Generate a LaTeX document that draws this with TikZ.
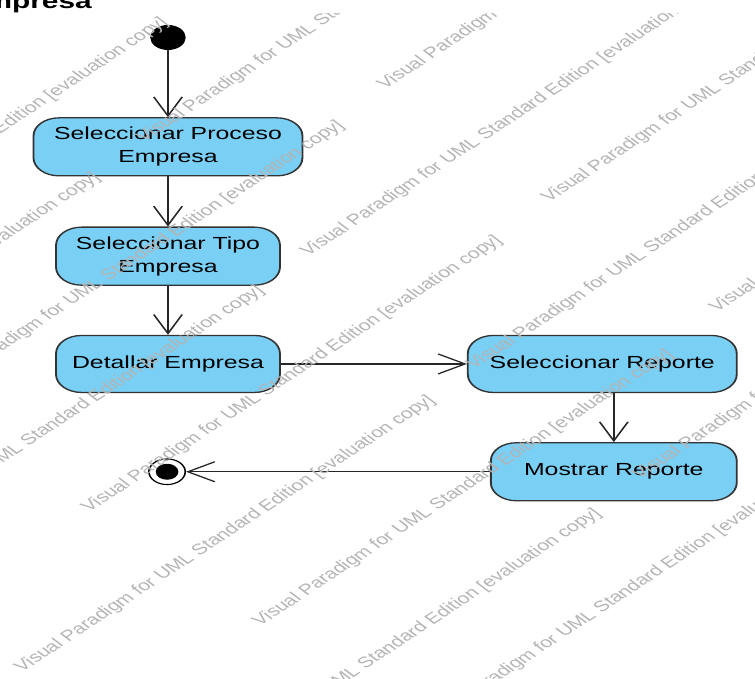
\documentclass[tikz,border=0pt]{standalone}
\usepackage{fontspec}
\setmainfont{Liberation Sans}
\usepackage{tikz}
\usetikzlibrary{arrows.meta,positioning}
\definecolor{actfill}{HTML}{7ACFF5}
\definecolor{wmgray}{HTML}{B4B4B4}

\begin{document}
\begin{tikzpicture}[
  x=1pt, y=-1pt,
  act/.style={draw=black!80, fill=actfill, rounded corners=18pt, line width=1.3pt,
              align=center, minimum height=58pt, inner sep=2pt,
              font=\fontsize{17.5}{23}\selectfont},
  initnode/.style={circle, fill=black, minimum size=25pt, inner sep=0pt},
  finnode/.style={circle, draw=black, line width=1.1pt, fill=white, minimum size=25.6pt, inner sep=0pt,
              path picture={\fill[black] (path picture bounding box.center) circle (8pt);}},
  ar/.style={-{Straight Barb[length=19pt,width=20pt]}, line width=1.2pt, draw=black!85},
  wm/.style={text=wmgray, font=\fontsize{15}{18}\selectfont, anchor=base west,
             rotate=43, inner sep=0pt}
]
\useasboundingbox (0,0) rectangle (755,679);
\begin{scope}[transform canvas={xscale=1.42}]
% title, cut by the page edge
\node[font=\fontsize{21}{25}\selectfont\bfseries, anchor=base east, inner sep=0pt] (ttl) at (64.8,8.5) {Empresa};

\node[initnode] (ini) at (118.3,37.5) {};
\node[act, minimum width=189.4pt, below=67pt of ini] (spe) {Seleccionar Proceso\\Empresa};
\node[act, minimum width=157.7pt, below=50pt of spe] (ste) {Seleccionar Tipo\\Empresa};
\node[act, minimum width=157.7pt, minimum height=57pt, below=49pt of ste] (dem) {Detallar Empresa};
\node[act, minimum width=189.4pt, minimum height=57pt, right=131pt of dem] (srep) {Seleccionar Reporte};
\node[act, minimum width=173.2pt, below=49pt of srep, xshift=8.1pt] (mrep) {Mostrar Reporte};
\node[finnode, left=214pt of mrep] (fin) {};

\draw[ar] (ini) -- (spe);
\draw[ar] (spe) -- (ste);
\draw[ar] (ste) -- (dem);
\draw[ar] (dem) -- (srep);
\draw[ar] (mrep.north |- srep.south) -- (mrep.north);
\draw[ar] (mrep) -- (fin);

% evaluation watermark
\begin{scope}
\clip (-250,14) rectangle (532,679);
\foreach \x/\y [count=\i] in {-172.5/295, -220.4/450, -48.6/398, -104.9/563,
    101.4/143, 216.9/257, 271.1/90, 386.6/203, 504.9/313, 62.7/513,
    450.7/480, 333.8/370, 183.1/627, 15.5/673, 132.4/786, 298.6/730}
  \node[wm] (wm\i) at (\x,\y) {Visual Paradigm for UML Standard Edition [evaluation copy]};
\end{scope}
\end{scope}
\end{tikzpicture}
\end{document}
